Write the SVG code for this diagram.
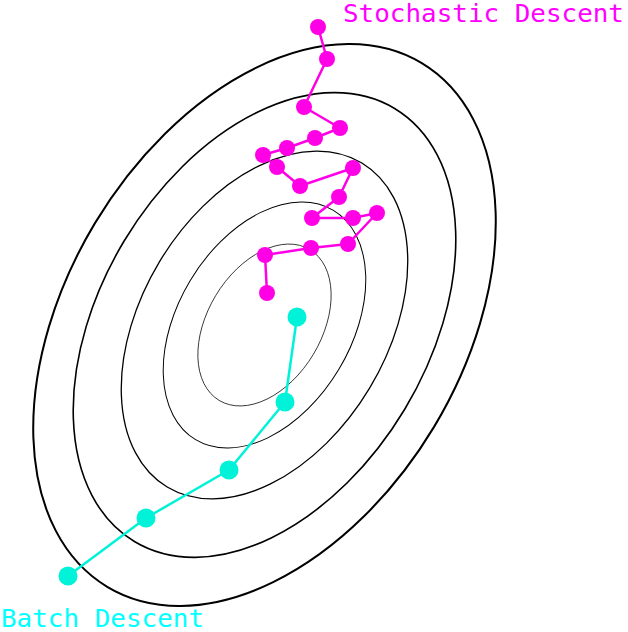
<svg xmlns="http://www.w3.org/2000/svg" width="628" height="632" viewBox="0 0 628 632">
<style>
.c{fill:none;stroke:#000}
.sl{fill:none;stroke:#ff00e6;stroke-width:2.5;stroke-linejoin:round}
.sd{fill:#ff00e6}
.bl{fill:none;stroke:#00f2d8;stroke-width:2.5;stroke-linejoin:round}
.bd{fill:#00f2d8}
.t{font-family:"DejaVu Sans Mono","Liberation Mono",monospace;font-size:25px}
</style>
<rect width="628" height="632" fill="#fff"/>
<g id="contours" transform="rotate(31 264.5 325)">
<ellipse class="c" cx="264.5" cy="325" rx="57" ry="88" stroke-width="0.7"/>
<ellipse class="c" cx="264.5" cy="325" rx="86.6" ry="133.8" stroke-width="1"/>
<ellipse class="c" cx="264.5" cy="325" rx="122.6" ry="189" stroke-width="1.3"/>
<ellipse class="c" cx="264.5" cy="325" rx="163.6" ry="252.6" stroke-width="1.6"/>
<ellipse class="c" cx="264.5" cy="325" rx="197.8" ry="305.4" stroke-width="2"/>
</g>
<g id="connectors">
<polyline class="sl" points="318,27 327,59 304,107 340,128 315,138 287,148 263,155 277,167 300,186 353,168 339,197 312,218 353,218 377,213 348,244 311,248 265,255 267,293"/>
<polyline class="bl" points="297,317 285,402 229,470 146,518 68,576"/>
</g>
<g id="stochastic">
<circle class="sd" cx="318" cy="27" r="8"/>
<circle class="sd" cx="327" cy="59" r="8"/>
<circle class="sd" cx="304" cy="107" r="8"/>
<circle class="sd" cx="340" cy="128" r="8"/>
<circle class="sd" cx="315" cy="138" r="8"/>
<circle class="sd" cx="287" cy="148" r="8"/>
<circle class="sd" cx="263" cy="155" r="8"/>
<circle class="sd" cx="277" cy="167" r="8"/>
<circle class="sd" cx="300" cy="186" r="8"/>
<circle class="sd" cx="353" cy="168" r="8"/>
<circle class="sd" cx="339" cy="197" r="8"/>
<circle class="sd" cx="312" cy="218" r="8"/>
<circle class="sd" cx="353" cy="218" r="8"/>
<circle class="sd" cx="377" cy="213" r="8"/>
<circle class="sd" cx="348" cy="244" r="8"/>
<circle class="sd" cx="311" cy="248" r="8"/>
<circle class="sd" cx="265" cy="255" r="8"/>
<circle class="sd" cx="267" cy="293" r="8"/>
<text class="t" x="343" y="22" fill="#ff00ff" textLength="281" lengthAdjust="spacingAndGlyphs">Stochastic Descent</text>
</g>
<g id="batch">
<circle class="bd" cx="297" cy="317" r="9.5"/>
<circle class="bd" cx="285" cy="402" r="9.5"/>
<circle class="bd" cx="229" cy="470" r="9.5"/>
<circle class="bd" cx="146" cy="518" r="9.5"/>
<circle class="bd" cx="68" cy="576" r="9.5"/>
<text class="t" x="1" y="627" fill="#00ffff" textLength="203" lengthAdjust="spacingAndGlyphs">Batch Descent</text>
</g>
</svg>
